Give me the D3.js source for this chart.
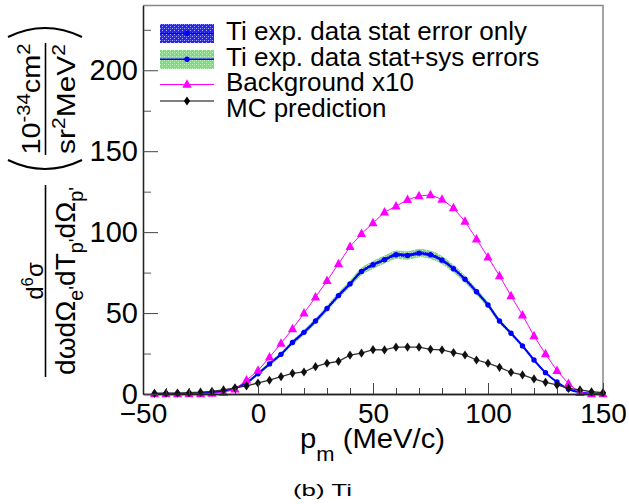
<!DOCTYPE html>
<html><head><meta charset="utf-8">
<script src="https://cdn.jsdelivr.net/npm/d3@7"></script>
<style>
body{margin:0;background:#fff}
svg{display:block}
text{font-family:"Liberation Sans",Arial,Helvetica,sans-serif;fill:#000}
</style>
</head><body>
<svg id="c" width="629" height="504"></svg>
<script>
// ---- data ----
const pm = [-45,-40,-35,-30,-25,-20,-15,-10,-5,0,5,10,15,20,25,30,35,40,45,50,55,60,65,70,75,80,85,90,95,100,105,110,115,120,125,130,135,140,145,150];
const tiData = [0.1,0.1,0.2,0.3,0.6,1.0,1.8,3.5,7.0,12.5,18.6,24.5,31.8,38.1,45.1,52.8,60.8,68.0,75.7,79.8,83.0,86.0,85.6,87.0,86.0,82.7,77.4,70.9,63.2,55.0,45.1,37.5,29.7,21.0,13.2,7.4,3.1,1.0,0.3,0.1];
const statErr = [0.05,0.05,0.1,0.1,0.15,0.2,0.25,0.3,0.4,0.5,0.6,0.6,0.7,0.7,0.8,0.8,0.9,0.9,1.0,1.0,1.0,1.1,1.1,1.1,1.1,1.0,1.0,0.9,0.9,0.8,0.8,0.7,0.6,0.5,0.4,0.3,0.2,0.1,0.05,0.05];
const totErr = [0.1,0.1,0.15,0.2,0.3,0.4,0.5,0.7,0.9,1.1,1.2,1.3,1.5,1.6,1.7,1.9,2.0,2.1,2.3,2.4,2.5,2.6,2.6,2.6,2.6,2.5,2.4,2.2,2.0,1.8,1.6,1.4,1.2,1.0,0.7,0.5,0.3,0.2,0.1,0.1];
const bgX10 = [0,0,0,0,0.1,0.3,1.0,3.0,8.5,14.5,22.7,31.3,40.2,49.9,59.8,70.0,80.4,91.0,99.0,105.6,112.3,116.0,120.0,122.3,123.0,120.2,114.9,106.6,95.7,84.5,73.0,60.6,48.7,35.9,24.7,14.4,6.4,0.8,0.1,0];
const mcPred = [0.4,0.5,0.6,0.8,1.1,1.6,2.5,3.8,5.0,6.8,8.5,10.7,12.8,13.6,16.9,19.0,20.2,24.0,25.2,27.4,27.2,28.9,29.0,28.9,27.6,27.2,25.6,24.1,21.0,19.0,16.5,13.4,11.8,9.3,7.2,5.6,3.5,2.5,1.4,0.8];
const xMajor = [-50,0,50,100,150];
const xMinor = [-40,-30,-20,-10,10,20,30,40,60,70,80,90,110,120,130,140];
const yMajor = [0,50,100,150,200];
const yMinor = [25,75,125,175,225];
const legendLabels = ["Ti exp. data stat error only","Ti exp. data stat+sys errors","Background x10","MC prediction"];

// ---- setup ----
const svg = d3.select("#c");
const L = 143, R = 603, T = 5.5, B = 394;
const x = d3.scaleLinear().domain([-50,150]).range([L,R]);
const y = d3.scaleLinear().domain([0,240]).range([B,T]);

const defs = svg.append("defs");
function pat(id, base, dot){
  const p = defs.append("pattern").attr("id",id).attr("patternUnits","userSpaceOnUse").attr("width",4).attr("height",4);
  p.append("rect").attr("width",4).attr("height",4).attr("fill",base);
  p.append("rect").attr("x",0).attr("y",0).attr("width",1).attr("height",1).attr("fill",dot);
  p.append("rect").attr("x",2).attr("y",2).attr("width",1).attr("height",1).attr("fill",dot);
  p.append("rect").attr("x",2).attr("y",0).attr("width",1).attr("height",1).attr("fill",dot).attr("opacity",0.5);
}
pat("pblue","#2626f2","#a8a8ff");
pat("pgreen","#7ddc7d","#c8f2c8");

// frame (top/right)
svg.append("path").attr("d",`M${L},${T}H${R}V${B}`).attr("fill","none").attr("stroke","#888").attr("stroke-width",1.5);

// ---- bands ----
const rows = pm.map((p,i)=>({p, v:tiData[i], s:statErr[i], t:totErr[i], b:bgX10[i], m:mcPred[i]}));
svg.append("path").datum(rows)
  .attr("d", d3.area().x(d=>x(d.p)).y0(d=>y(d.v-d.t)).y1(d=>y(d.v+d.t)).curve(d3.curveCatmullRom))
  .attr("fill","url(#pgreen)");
svg.append("path").datum(rows)
  .attr("d", d3.area().x(d=>x(d.p)).y0(d=>y(d.v-d.s)).y1(d=>y(d.v+d.s)).curve(d3.curveCatmullRom))
  .attr("fill","url(#pblue)");

// ---- blue data ----
svg.append("path").datum(rows)
  .attr("d", d3.line().x(d=>x(d.p)).y(d=>y(d.v)).curve(d3.curveCatmullRom))
  .attr("fill","none").attr("stroke","#0000ff").attr("stroke-width",2);
svg.append("g").selectAll("circle").data(rows).join("circle")
  .attr("cx",d=>x(d.p)).attr("cy",d=>y(d.v)).attr("r",2.7).attr("fill","#0000ff");

// ---- background x10 ----
svg.append("path").datum(rows)
  .attr("d", d3.line().x(d=>x(d.p)).y(d=>y(d.b)))
  .attr("fill","none").attr("stroke","#ff00ff").attr("stroke-width",1);
const tri = "M0,-5.2L4.6,3.3L-4.6,3.3Z";
svg.append("g").selectAll("path").data(rows).join("path")
  .attr("transform",d=>`translate(${x(d.p)},${y(d.b)})`).attr("d",tri).attr("fill","#ff00ff");

// ---- MC ----
svg.append("path").datum(rows)
  .attr("d", d3.line().x(d=>x(d.p)).y(d=>y(d.m)))
  .attr("fill","none").attr("stroke","#333").attr("stroke-width",1.3);
const dia = "M0,-4.6L3.1,0L0,4.6L-3.1,0Z";
svg.append("g").selectAll("path").data(rows).join("path")
  .attr("transform",d=>`translate(${x(d.p)},${y(d.m)})`).attr("d",dia).attr("fill","#111");

// ---- axes ----
const gx = svg.append("g").attr("transform",`translate(0,${B})`);
gx.call(d3.axisBottom(x).tickValues(xMinor).tickSize(-6).tickSizeOuter(0).tickFormat(""));
gx.selectAll(".tick line").attr("stroke","#444");
const gx2 = svg.append("g").attr("transform",`translate(0,${B})`);
gx2.call(d3.axisBottom(x).tickValues(xMajor).tickSize(-11).tickSizeOuter(0).tickPadding(9));
gx2.selectAll("text").attr("font-size",28).attr("font-family","Liberation Sans, Arial, sans-serif").attr("fill","#000");
gx2.selectAll(".tick line").attr("stroke","#444");

const gy = svg.append("g").attr("transform",`translate(${L},0)`);
gy.call(d3.axisLeft(y).tickValues(yMinor).tickSize(-8).tickSizeOuter(0).tickFormat(""));
gy.selectAll(".tick line").attr("stroke","#555");
const gy2 = svg.append("g").attr("transform",`translate(${L},0)`);
gy2.call(d3.axisLeft(y).tickValues(yMajor).tickSize(-15).tickSizeOuter(0).tickPadding(5));
gy2.selectAll("text").attr("font-size",29).attr("font-family","Liberation Sans, Arial, sans-serif").attr("fill","#000");
gy2.selectAll(".tick line").attr("stroke","#444");
svg.selectAll(".domain").attr("stroke","#222").attr("stroke-width",1.3);

// ---- rich text helper ----
function rich(parent, parts, size, attrs){
  const t = parent.append("text").attr("font-size",size);
  for (const k in attrs) t.attr(k, attrs[k]);
  let shift = 0;
  parts.forEach(pt=>{
    const target = pt.sup ? -size*0.42 : pt.sub ? size*(pt.low||0.28) : 0;
    const sp = t.append("tspan").text(pt.t).attr("dy", target - shift);
    if (pt.sup || pt.sub) sp.attr("font-size", size*(pt.scale||0.7));
    shift = target;
  });
  return t;
}

// ---- x title ----
rich(svg, [{t:"p"},{t:"m",sub:true,low:0.45,scale:0.75},{t:" (MeV/c)"}], 28, {x:300, y:448, textLength:145, lengthAdjust:"spacingAndGlyphs"});

// ---- y title (rotated) ----
const gt = svg.append("g").attr("transform","rotate(-90)");
rich(gt, [{t:"d"},{t:"6",sup:true},{t:"σ"}], 24, {x:-281, y:43, "text-anchor":"middle"});
gt.append("line").attr("x1",-377).attr("x2",-185).attr("y1",45.5).attr("y2",45.5).attr("stroke","#000").attr("stroke-width",1.6);
rich(gt, [{t:"dωdΩ"},{t:"e'",sub:true},{t:"dT"},{t:"p'",sub:true},{t:"dΩ"},{t:"p'",sub:true}], 28,
  {x:-281, y:75, "text-anchor":"middle", textLength:188, lengthAdjust:"spacingAndGlyphs"});
rich(gt, [{t:"10"},{t:"-34",sup:true},{t:"cm"},{t:"2",sup:true}], 25, {x:-99, y:40, "text-anchor":"middle", textLength:111, lengthAdjust:"spacingAndGlyphs"});
gt.append("line").attr("x1",-155).attr("x2",-43).attr("y1",45.5).attr("y2",45.5).attr("stroke","#000").attr("stroke-width",1.6);
rich(gt, [{t:"sr"},{t:"2",sup:true},{t:"MeV"},{t:"2",sup:true}], 25, {x:-99, y:75, "text-anchor":"middle", textLength:110, lengthAdjust:"spacingAndGlyphs"});
// parentheses
svg.append("path").attr("d","M8,37 Q45,19 82,37").attr("fill","none").attr("stroke","#000").attr("stroke-width",2);
svg.append("path").attr("d","M8,160 Q45,178 82,160").attr("fill","none").attr("stroke","#000").attr("stroke-width",2);

// ---- legend ----
const lg = svg.append("g");
const ly = [33.3, 59.3, 84.5, 101];
const lyText = [39.5, 65.5, 90.5, 116.5];
lg.append("rect").attr("x",160).attr("y",24).attr("width",54).attr("height",19).attr("fill","url(#pblue)");
lg.append("line").attr("x1",160).attr("x2",214).attr("y1",ly[0]).attr("y2",ly[0]).attr("stroke","#0000ff").attr("stroke-width",1.5);
lg.append("circle").attr("cx",187).attr("cy",ly[0]).attr("r",2.7).attr("fill","#0000ff");
lg.append("rect").attr("x",160).attr("y",50).attr("width",54).attr("height",19).attr("fill","url(#pgreen)");
lg.append("line").attr("x1",160).attr("x2",214).attr("y1",ly[1]).attr("y2",ly[1]).attr("stroke","#0000ff").attr("stroke-width",1.5);
lg.append("circle").attr("cx",187).attr("cy",ly[1]).attr("r",2.7).attr("fill","#0000ff");
lg.append("line").attr("x1",160).attr("x2",214).attr("y1",ly[2]).attr("y2",ly[2]).attr("stroke","#ff00ff").attr("stroke-width",1.2);
lg.append("path").attr("transform",`translate(187,${ly[2]})`).attr("d",tri).attr("fill","#ff00ff");
lg.append("line").attr("x1",160).attr("x2",214).attr("y1",ly[3]).attr("y2",ly[3]).attr("stroke","#000").attr("stroke-width",1.2);
lg.append("path").attr("transform",`translate(187,${ly[3]})`).attr("d",dia).attr("fill","#000");
legendLabels.forEach((s,i)=>{
  lg.append("text").attr("x",226).attr("y",lyText[i]).attr("font-size",26).text(s);
});

// ---- caption ----
svg.append("text").attr("x",293).attr("y",496).attr("font-size",17)
  .attr("font-family","DejaVu Serif, Liberation Serif, serif").attr("fill","#444")
  .attr("textLength",59).attr("lengthAdjust","spacingAndGlyphs").text("(b) Ti");
</script>
</body></html>
